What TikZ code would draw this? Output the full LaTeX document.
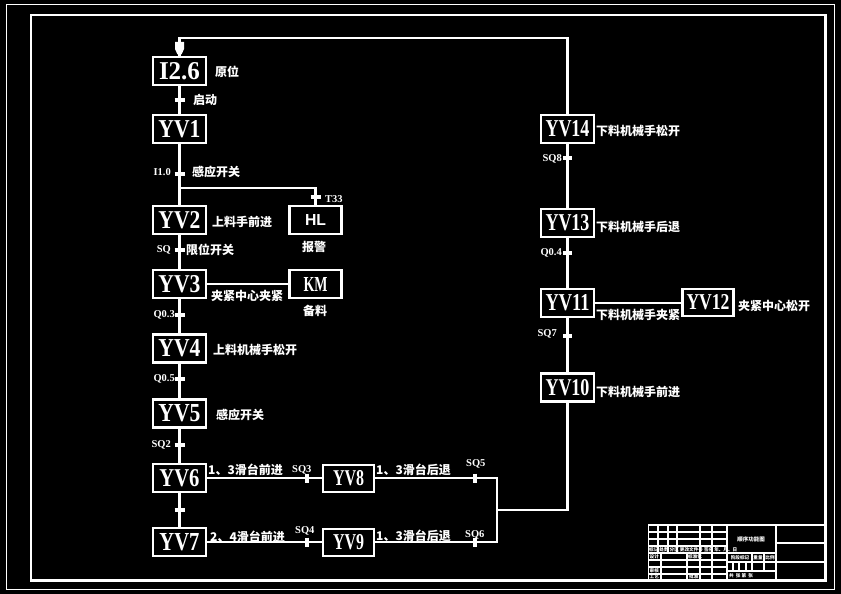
\documentclass[tikz,border=0pt]{standalone}
\usepackage{fontspec}
\usepackage{graphicx}
\setmainfont{Liberation Serif}
\setsansfont{Liberation Sans}
\newfontfamily\cjk{Noto Sans CJK SC}
\newfontfamily\boxfont{Liberation Serif}
\newcommand\bxt[3]{\resizebox{#1pt}{#2pt}{\boxfont\bfseries #3}}
\begin{document}
\begin{tikzpicture}[x=1pt,y=-1pt,
  box/.style={draw=white,line width=2.8pt,minimum width=53pt,minimum height=28pt,inner sep=0pt,text=white},
  sbox/.style={box,minimum width=51pt,minimum height=27pt},
  wire/.style={draw=white,line width=2.8pt},
  tk/.style={draw=white,line width=3.5pt},
  lbl/.style={text=white,font=\cjk\bfseries\fontsize{12}{12}\selectfont,inner sep=0pt,anchor=west},
  lat/.style={text=white,font=\bfseries\fontsize{10.5}{10.5}\selectfont,inner sep=0pt,anchor=west},
  tb/.style={draw=white,line width=1.2pt},
  tt/.style={text=white,font=\cjk\bfseries\fontsize{4.6}{4.6}\selectfont,inner sep=0pt}]
\fill[black] (0,0) rectangle (841,594);
\useasboundingbox (0,0) rectangle (841,594);
% borders
\draw[white,line width=1pt] (6.5,4.5) rectangle (834.5,589.5);
\draw[white,line width=2.6pt] (31,15) rectangle (825.5,580.5);

% left column
\node[box] (I26) at (179.5,71) {\bxt{41}{17}{I2.6}};
\node[box] (YV1) at (179.5,129) {\bxt{42}{17}{YV1}};
\node[box] (YV2) at (179.5,220) {\bxt{42}{17}{YV2}};
\node[box,minimum width=52pt] (HL) at (315.5,220) {\resizebox{21pt}{11pt}{\sffamily\bfseries HL}};
\node[box] (YV3) at (179.5,284) {\bxt{42}{17}{YV3}};
\node[box,minimum width=52pt] (KM) at (315.5,284) {\bxt{24}{14}{KM}};
\node[box] (YV4) at (179.5,348.5) {\bxt{42}{17}{YV4}};
\node[box] (YV5) at (179.5,413.5) {\bxt{42}{17}{YV5}};
\node[box] (YV6) at (179.5,478) {\bxt{40}{17}{YV6}};
\node[box] (YV7) at (179.5,542) {\bxt{40}{17}{YV7}};
\node[sbox] (YV8) at (348.5,478.5) {\bxt{31}{15}{YV8}};
\node[sbox] (YV9) at (348.5,542.5) {\bxt{31}{15}{YV9}};
% right column
\node[box] (YV14) at (567.5,129) {\bxt{44}{16}{YV14}};
\node[box] (YV13) at (567.5,223) {\bxt{44}{16}{YV13}};
\node[box] (YV11) at (567.5,303) {\bxt{44}{16}{YV11}};
\node[box,minimum width=51pt,minimum height=27pt] (YV12) at (708,302.5) {\bxt{43}{15}{YV12}};
\node[box] (YV10) at (567.5,387.5) {\bxt{44}{16}{YV10}};

% connectors
\coordinate (tl) at (179.5,38);
\coordinate (tr) at (567.5,38);
\draw[wire] (I26.north) -- (tl) -- (tr) -- (YV14.north);
\fill[white] (175,42) -- (184,42) -- (184,49) -- (181.5,54.5) -- (177.5,54.5) -- (175,49) -- cycle;
\draw[wire] (I26.south) -- (YV1.north);
\draw[wire] (YV1.south) -- (YV2.north);
\coordinate (br) at (179.5,188);
\draw[wire] (br) -| (HL.north);
\draw[wire] (YV2.south) -- (YV3.north);
\draw[wire] (YV3.east) -- (KM.west);
\draw[wire] (YV3.south) -- (YV4.north);
\draw[wire] (YV4.south) -- (YV5.north);
\draw[wire] (YV5.south) -- (YV6.north);
\draw[wire] (YV6.south) -- (YV7.north);
\draw[wire] (YV6.east) -- (YV6.east -| YV8.west);
\draw[wire] (YV7.east) -- (YV7.east -| YV9.west);
\coordinate (j1) at (497,478);
\coordinate (j2) at (497,542);
\coordinate (j3) at (497,510);
\draw[wire] (YV8.east |- j1) -- (j1) -- (j2) -- (YV9.east |- j2);
\draw[wire] (j3) -- (j3 -| YV10.south) -- (YV10.south);
\draw[wire] (YV14.south) -- (YV13.north);
\draw[wire] (YV13.south) -- (YV11.north);
\draw[wire] (YV11.south) -- (YV10.north);
\draw[wire] (YV11.east) -- (YV11.east -| YV12.west);

% transition ticks
\foreach \y in {100,174,250,315,379,445,510} \draw[tk] (174.5,\y) -- (184.5,\y);
\draw[tk] (310.5,197) -- (320.5,197);
\foreach \y in {158,253,336} \draw[tk] (563,\y) -- (572,\y);
\foreach \x in {307,475} {\draw[tk] (\x,473.5) -- (\x,483); \draw[tk] (\x,537.5) -- (\x,547);}

% labels
\node[lbl] (l1) at (215,72) {原位};
\node[lbl] (l2) at (193,100) {启动};
\node[lat,anchor=east] (l3) at (171,172) {I1.0};
\node[lbl] (l4) at (192,172) {感应开关};
\node[lat] (l5) at (325,199) {T33};
\node[lbl] (l6) at (212,222) {上料手前进};
\node[lbl,anchor=center] (l7) at (314,247) {报警};
\node[lat,anchor=east] (l8) at (171,250) {SQ};
\node[lbl] (l9) at (186,250) {限位开关};
\node[lbl] (l10) at (211,296) {夹紧中心夹紧};
\node[lbl,anchor=center] (l11) at (315,311) {备料};
\node[lat,anchor=east] (l12) at (175,315) {Q0.3};
\node[lbl] (l13) at (213,350) {上料机械手松开};
\node[lat,anchor=east] (l14) at (175,379) {Q0.5};
\node[lat,anchor=east] (l16) at (171,445) {SQ2};
\node[lbl] (l15) at (216,415) {感应开关};
\node[lbl] (l17) at (208,470) {1、3滑台前进};
\node[lat] (l18) at (292,470) {SQ3};
\node[lbl] (l19) at (376,470) {1、3滑台后退};
\node[lat] (l20) at (466,464) {SQ5};
\node[lbl] (l21) at (210,537) {2、4滑台前进};
\node[lat] (l22) at (295,531) {SQ4};
\node[lbl] (l23) at (376,536) {1、3滑台后退};
\node[lat] (l24) at (465,535) {SQ6};
\node[lbl] (r1) at (596,131) {下料机械手松开};
\node[lat,anchor=east] (r2) at (562,159) {SQ8};
\node[lbl] (r3) at (596,227) {下料机械手后退};
\node[lat,anchor=east] (r4) at (562,253) {Q0.4};
\node[lbl] (r5) at (596,315) {下料机械手夹紧};
\node[lbl] (r6) at (738,306) {夹紧中心松开};
\node[lat,anchor=east] (r7) at (557,334) {SQ7};
\node[lbl] (r8) at (596,392) {下料机械手前进};

% title block
\draw[white,line width=2pt] (648,525) -- (826,525);
\draw[tb] (648.5,525) -- (648.5,580.5);
\foreach \y in {532,539,546,553,560,567,574} \draw[tb] (648.5,\y) -- (727,\y);
\foreach \x in {658,668,677,700,712} \draw[tb] (\x,525) -- (\x,553);
\foreach \x in {661,687,700,712} \draw[tb] (\x,553) -- (\x,580.5);
\draw[tb] (727,525) -- (727,580.5);
\draw[tb] (776,525) -- (776,580.5);
\draw[tb] (727,553) -- (776,553);
\draw[tb] (727,562) -- (776,562);
\draw[tb] (727,571) -- (776,571);
\foreach \x in {752,764} \draw[tb] (\x,553) -- (\x,571);
\foreach \x in {733,739,746} \draw[tb] (\x,562) -- (\x,571);
\draw[tb] (776,543) -- (825.5,543);
\draw[tb] (776,562) -- (825.5,562);
\node[tt,anchor=west] (t1) at (649,549.5) {标记 处数 分区 更改文件号 签名 年、月、日};
\node[tt,anchor=west] (t2) at (649.5,556.5) {设计};
\node[tt,anchor=west] (t3) at (688,556.5) {标准化};
\node[tt,anchor=west] (t4) at (649.5,570.5) {审核};
\node[tt,anchor=west] (t5) at (649.5,577) {工艺};
\node[tt,anchor=west] (t6) at (689,577) {批准};
\node[tt,font=\cjk\bfseries\fontsize{5.5}{5.5}\selectfont] (t7) at (751,539.5) {顺序功能图};
\node[tt] (t8) at (740,557.5) {阶段标记};
\node[tt] (t9) at (758,557.5) {重量};
\node[tt] (t10) at (770,557.5) {比例};
\node[tt,anchor=west] (t11) at (729,576) {共\ \ 张\ 第\ \ 张};
\end{tikzpicture}
\end{document}
